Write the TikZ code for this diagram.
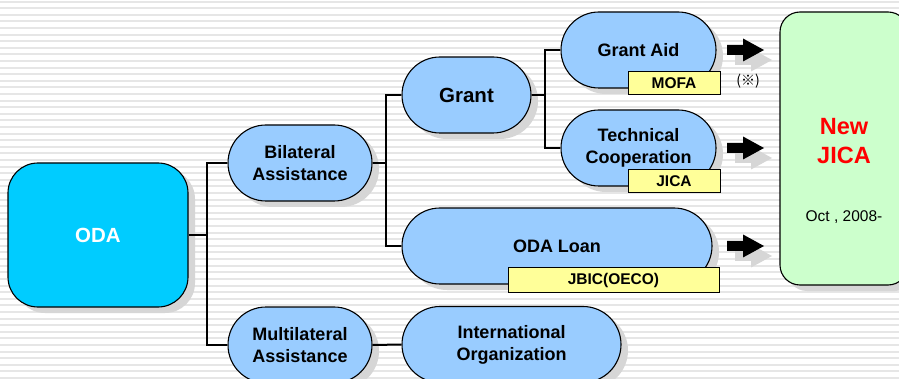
\documentclass[tikz,border=0pt]{standalone}
\usepackage{fontspec}
\setmainfont{Liberation Sans}
\newfontfamily\cjk{Noto Sans CJK JP}
\usetikzlibrary{shadows}
\definecolor{pill}{HTML}{99CCFF}
\definecolor{odacyan}{HTML}{00CCFF}
\definecolor{tagyellow}{HTML}{FFFF99}
\definecolor{jicagreen}{HTML}{CCFFCC}
\definecolor{stripegray}{HTML}{E6E6E6}
\definecolor{shadowgray}{HTML}{D6D6D6}
\tikzset{
  stripe/.style={draw=stripegray, line width=2pt},
  shd/.style={drop shadow={shadow xshift=7pt, shadow yshift=-6pt, fill=shadowgray, opacity=1}},
  pillbox/.style={shape=rectangle, draw=black, line width=1.1pt, fill=pill, rounded corners=38pt,
     minimum height=76pt, inner sep=0pt, align=center, shd,
     font=\fontsize{18}{22}\selectfont\bfseries},
  tagbox/.style={shape=rectangle, draw=black, line width=1pt, fill=tagyellow, inner sep=0pt,
     font=\fontsize{15.5}{18}\selectfont\bfseries},
  conn/.style={draw=black, line width=2pt},
  arrowshape/.pic={
    \fill[shadowgray] (8,5) -- ++(16,0) -- ++(0,-6.5) -- ++(21,11.5) -- ++(-21,11.5) -- ++(0,-6.5) -- ++(-16,0) -- cycle;
    \fill[black] (0,-5) -- ++(16,0) -- ++(0,-6.5) -- ++(21,11.5) -- ++(-21,11.5) -- ++(0,-6.5) -- ++(-16,0) -- cycle;
  }
}
\begin{document}
\begin{tikzpicture}[x=1pt,y=-1pt]
\useasboundingbox (0,0) rectangle (899,379);
\clip (0,0) rectangle (899,379);
\fill[white] (0,0) rectangle (899,379);
\foreach \yy in {1.7,8.3,...,380} \draw[stripe] (0,\yy) -- (899,\yy);

% root
\node[shape=rectangle, draw=black, line width=1.1pt, fill=odacyan, rounded corners=30pt,
      minimum width=180pt, minimum height=144pt, shd, text=white,
      font=\fontsize{20.5}{24}\selectfont\bfseries] (oda) at (98,235) {ODA};

% level 1
\node[pillbox, minimum width=144pt] (bil) at (300,163) {Bilateral\\Assistance};
\node[pillbox, minimum width=144pt] (multi) at (300,345) {Multilateral\\Assistance};

% level 2
\node[pillbox, minimum width=129pt, font=\fontsize{20.5}{24}\selectfont\bfseries] (grant) at (466.5,95) {Grant};
\node[pillbox, minimum width=310pt] (loan) at (557,246) {ODA Loan};
\node[pillbox, minimum width=219pt] (intl) at (511.5,344.5) {International\\Organization};

% level 3
\node[pillbox, minimum width=155pt] (gaid) at (638.5,50) {Grant Aid};
\node[pillbox, minimum width=155pt] (tech) at (638.5,148) {Technical\\Cooperation};

% tags
\node[tagbox, minimum width=92pt, minimum height=23pt] (mofa) at (674,83.5) {MOFA};
\node[tagbox, minimum width=92pt, minimum height=23pt] (jicatag) at (674,181.5) {JICA};
\node[tagbox, minimum width=211pt, minimum height=24pt] (jbic) at (613.5,280) {JBIC(OECO)};
\node[font=\cjk\fontsize{14}{16}\selectfont] (note) at (748,81) {(※)};

% New JICA
\node[shape=rectangle, draw=black, line width=1.1pt, fill=jicagreen, rounded corners=20pt,
      minimum width=128pt, minimum height=273pt, shd] (newjica) at (844,148.5) {};
\node[text=red, align=center, font=\fontsize{23.5}{29}\selectfont\bfseries] (newlbl) at (844,141) {New\\JICA};
\node[font=\fontsize{15.5}{18}\selectfont] (oct) at (844,217) {Oct , 2008-};

% arrows
\pic at (727,50) {arrowshape};
\pic at (727,148) {arrowshape};
\pic at (727,246) {arrowshape};

% connectors
\coordinate (j1) at (207,235);
\coordinate (j2) at (386,163);
\coordinate (j3) at (545,95);
\draw[conn] (oda.east) -- (j1);
\draw[conn] (bil.west) -| (j1) |- (multi.west);
\draw[conn] (bil.east) -- (j2);
\draw[conn] (grant.west) -| (j2) |- (loan.west);
\draw[conn] (grant.east) -- (j3);
\draw[conn] (gaid.west) -| (j3) |- (tech.west);
\draw[conn] (multi.east) -- (intl.west);
\end{tikzpicture}
\end{document}
